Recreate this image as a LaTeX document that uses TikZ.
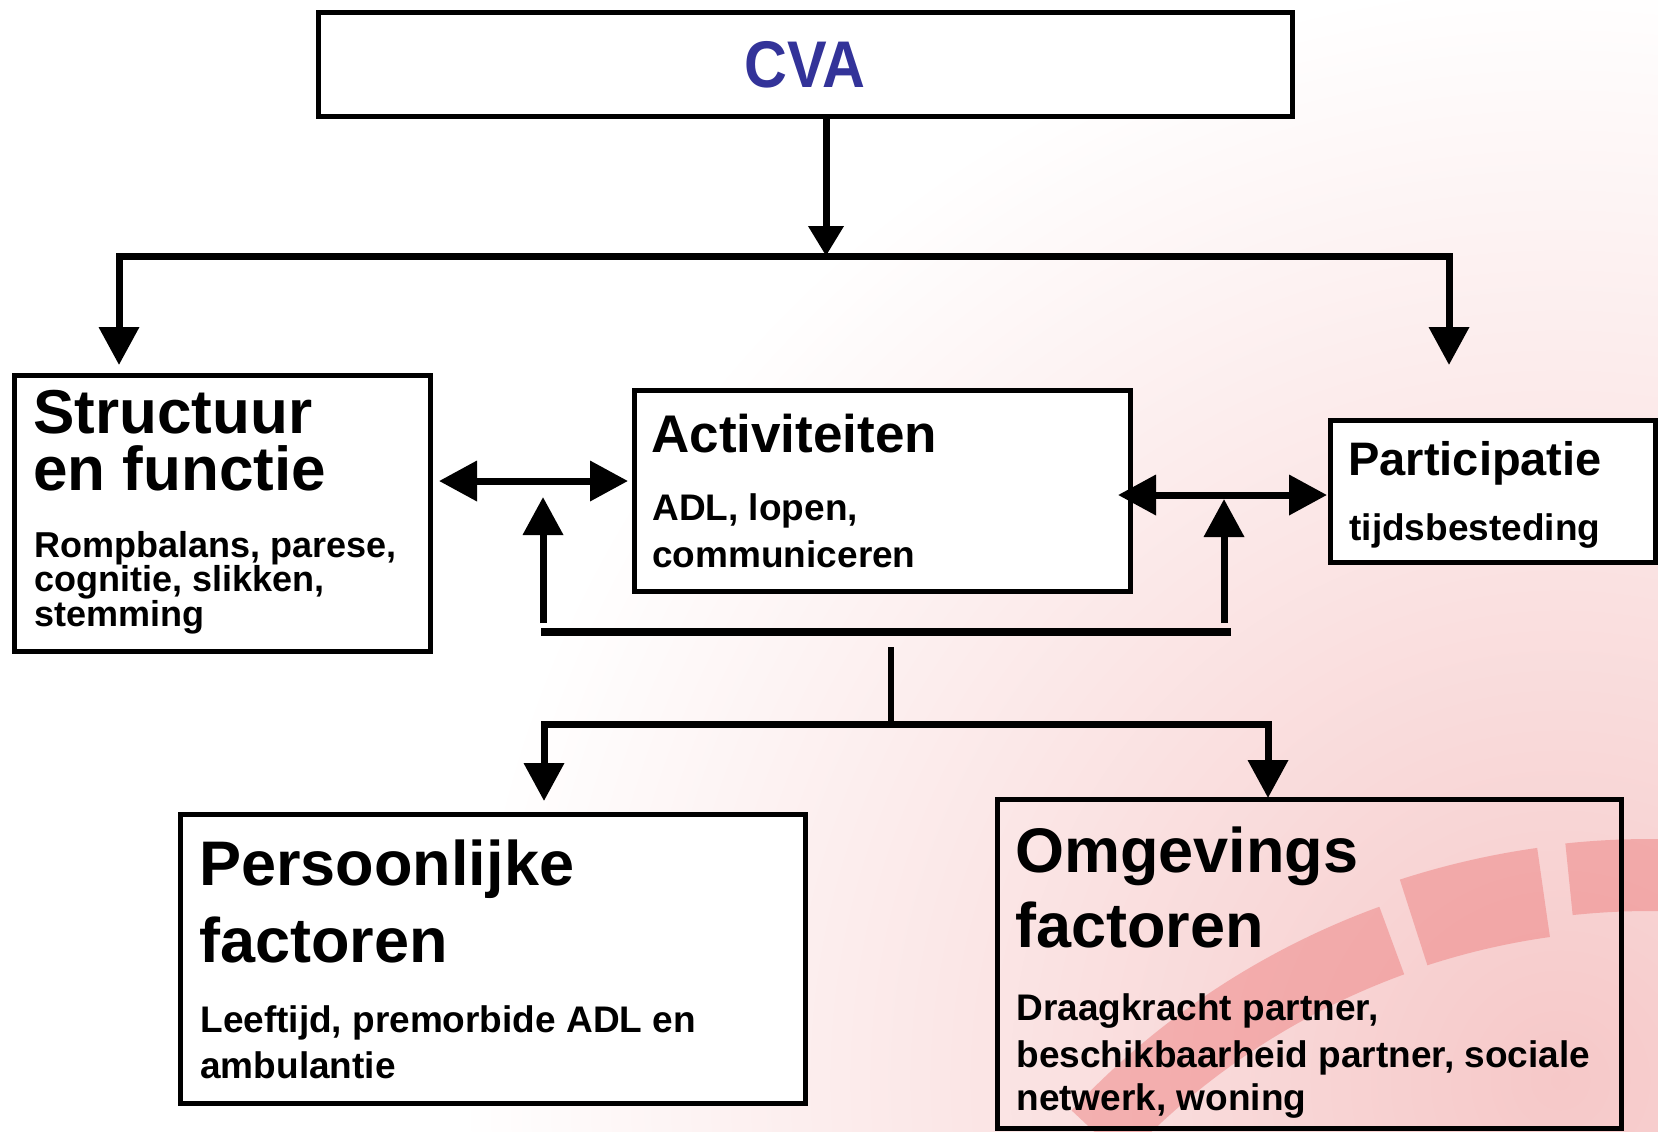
\documentclass[tikz,border=0pt]{standalone}
\usepackage{fontspec}
\setmainfont{Liberation Sans}
\usetikzlibrary{arrows.meta}
\definecolor{cvablue}{RGB}{51,51,153}
\definecolor{bgpink}{RGB}{246,200,200}
\definecolor{arcpink}{RGB}{236,118,118}
\begin{document}
\begin{tikzpicture}[x=0.5pt,y=-0.5pt,
  box/.style={draw, line width=2.5pt, rectangle, inner sep=0pt, outer sep=0pt},
  wbox/.style={box, fill=white},
  conn/.style={line width=3.5pt},
  arr/.style={conn, -{Triangle[width=19.5pt,length=19pt]}},
  darr/.style={conn, {Triangle[width=19.5pt,length=19pt]}-{Triangle[width=19.5pt,length=19pt]}},
  ttl/.style={anchor=base west, inner sep=0pt, font=\bfseries\fontsize{31.5pt}{31.5pt}\selectfont},
  sub/.style={anchor=base west, inner sep=0pt, font=\bfseries\fontsize{18.5pt}{18.5pt}\selectfont},
  tsub/.style={sub, font=\bfseries\fontsize{18pt}{18pt}\selectfont}]
% canvas and background decoration
\useasboundingbox (0,0) rectangle (1658,1131);
\fill[white] (0,0) rectangle (1658,1131);
\begin{scope}
  \clip (0,0) rectangle (1658,1131);
  \shade[inner color=bgpink, outer color=white] (1560,1080) circle (1100);
  \begin{scope}[opacity=0.45, line width=36pt, arcpink]
    \draw (1650,1650) ++(223:755) arc (223:250:755);
    \draw[line width=45pt] (1650,1650) ++(252:765) arc (252:262:765);
    \draw (1650,1650) ++(264:775) arc (264:285:775);
  \end{scope}
\end{scope}

% boxes
\node[wbox, minimum width=487pt, minimum height=52pt] (cva) at (805,64) {};
\node[wbox, minimum width=208pt, minimum height=138pt] (sf) at (222,513) {};
\node[wbox, minimum width=248pt, minimum height=100.5pt] (act) at (882,490.5) {};
\node[wbox, minimum width=162.5pt, minimum height=71pt] (par) at (1492.5,491) {};
\node[wbox, minimum width=312.5pt, minimum height=144.5pt] (pers) at (492.5,958.5) {};
\node[box, minimum width=312pt, minimum height=164.5pt] (omg) at (1309,963.5) {};

% texts
\node[anchor=base, inner sep=0pt, text=cvablue, font=\bfseries\fontsize{33pt}{33pt}\selectfont] (cvat) at (805,87) {\scalebox{0.9}[1]{CVA}};
\node[ttl, font=\bfseries\fontsize{31pt}{31pt}\selectfont] (sf1) at (33,433) {Structuur};
\node[ttl, font=\bfseries\fontsize{31pt}{31pt}\selectfont] (sf2) at (33,490) {en functie};
\node[tsub] (sf3) at (34,557) {Rompbalans, parese,};
\node[tsub] (sf4) at (34,591) {cognitie, slikken,};
\node[tsub] (sf5) at (34,626) {stemming};
\node[ttl, font=\bfseries\fontsize{26.5pt}{26.5pt}\selectfont] (act1) at (651,452) {Activiteiten};
\node[sub] (act2) at (652,520) {ADL, lopen,};
\node[sub] (act3) at (652,567) {communiceren};
\node[ttl, font=\bfseries\fontsize{23.5pt}{23.5pt}\selectfont] (par1) at (1348,475) {Participatie};
\node[sub] (par2) at (1349,540) {tijdsbesteding};
\node[ttl] (pers1) at (199,885) {Persoonlijke};
\node[ttl] (pers2) at (199,962) {factoren};
\node[sub] (pers3) at (200,1032) {Leeftijd, premorbide ADL en};
\node[sub] (pers4) at (200,1078) {ambulantie};
\node[ttl] (omg1) at (1015,872) {Omgevings};
\node[ttl] (omg2) at (1015,947) {factoren};
\node[sub] (omg3) at (1016,1020) {Draagkracht partner,};
\node[sub] (omg4) at (1016,1067) {beschikbaarheid partner, sociale};
\node[sub] (omg5) at (1016,1110) {netwerk, woning};

% connector points
\coordinate (topj) at (826,256);
\coordinate (sfin) at (119,365);
\coordinate (parin) at (1449,365);
\coordinate (dl1) at (439,481);
\coordinate (dl2) at (628,481);
\coordinate (dr1) at (1118,495);
\coordinate (dr2) at (1327,495);
\coordinate (barl) at (541,632);
\coordinate (barr) at (1231,632);
\coordinate (upl0) at (543,623);
\coordinate (upl1) at (543,497);
\coordinate (upr0) at (1224,623);
\coordinate (upr1) at (1224,499);
\coordinate (vtop) at (891,647);
\coordinate (vj) at (891,724);
\coordinate (persin) at (544,801);
\coordinate (omgin) at (1268,798);

% connectors
\draw[conn, -{Triangle[width=17pt,length=15pt]}] (cva.south -| topj) -- (topj);
\draw[arr] (topj) -| (sfin);
\draw[arr] (topj) -| (parin);
\draw[darr] (dl1) -- (dl2);
\draw[darr] (dr1) -- (dr2);
\draw[conn, line width=4pt] (barl) -- (barr);
\draw[arr] (upl0) -- (upl1);
\draw[arr] (upr0) -- (upr1);
\draw[conn, line width=3pt] (vtop) -- (vj);
\draw[arr] (vj) -| (persin);
\draw[arr] (vj) -| (omgin);
\end{tikzpicture}
\end{document}
